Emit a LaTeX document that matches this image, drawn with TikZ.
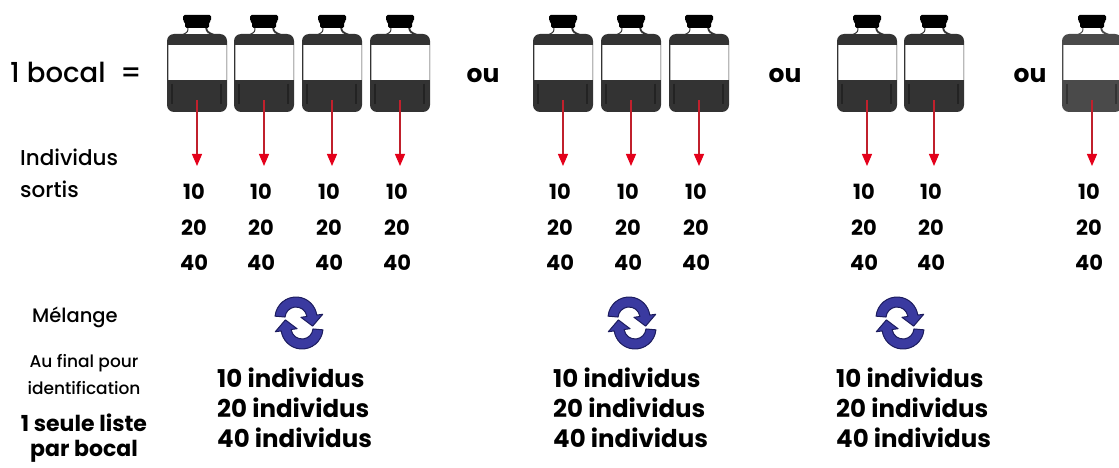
\documentclass[tikz,border=0pt]{standalone}
\usepackage{fontspec}
\setmainfont{Poppins}
\IfFontExistsTF{Poppins Medium}
  {\newfontfamily\mediumfont{Poppins Medium}}
  {\newfontfamily\mediumfont{Poppins}[FakeBold=2]}
\usetikzlibrary{arrows.meta}

\definecolor{bottledark}{HTML}{333333}
\definecolor{bottlegrey}{HTML}{4A4A4A}
\definecolor{arrowred}{HTML}{C0202C}
\definecolor{headred}{HTML}{E4001A}
\definecolor{iconblue}{HTML}{3A3AA0}
\definecolor{iconline}{HTML}{1C1C5E}

% one jar: name, centre x, body colour
\newcommand{\drawbocal}[3]{%
  \begin{scope}[shift={(#2,0)}]
    % body with shoulder band and bottom part
    \fill[#3, rounded corners=7pt] (-30,34) rectangle (30,112);
    % neck
    \fill[white] (-10,27) rectangle (10,34);
    \draw[#3, line width=1pt] (-9,27) .. controls (-9,32) .. (-15,35);
    \draw[#3, line width=1.8pt] (9,27) .. controls (10,32) .. (17,35);
    % stopper
    \fill[black, rounded corners=1.5pt] (-14,15) -- (14,15) -- (14,21) -- (12,22)
      -- (12,28) -- (-12,28) -- (-12,22) -- (-14,21) -- cycle;
    % label
    \fill[white] (-29,45) rectangle (29,80);
    \draw[gray!55, line width=0.6pt] (-29,45) -- (-29,80) (29,45) -- (29,80);
    % shading strips in the liquid
    \draw[black, opacity=0.3, line width=2pt] (-25,84) -- (-25,104) (24,84) -- (24,104);
  \end{scope}
  \coordinate (#1-out) at (#2,100);
  \coordinate (#1-tip) at (#2,166);
  \draw[pick] (#1-out) -- (#1-tip);
  \node[num] (#1-n10) at ({#2-3},199) {10};
  \node[num] (#1-n20) at ({#2-3},235) {20};
  \node[num] (#1-n40) at ({#2-3},270) {40};
}

% one half of the mixing symbol, drawn in upright coordinates
\newcommand{\halfarrow}{%
  \filldraw[fill=iconblue, draw=iconline, line width=1pt, line join=round]
    (175:21) arc[start angle=175, end angle=8, radius=21]
    -- (8:27) -- (-26:18.5) -- (8:5) -- (8:11)
    arc[start angle=8, end angle=175, radius=11] -- cycle;
}

% mixing symbol: name, centre x, centre y
\newcommand{\melange}[3]{%
  \coordinate (#1) at (#2,#3);
  \begin{scope}[shift={(#1)}, yscale=-1]
    \begin{scope}[shift={(-3,5)}]\halfarrow\end{scope}
    \begin{scope}[rotate=180]\begin{scope}[shift={(-3,5)}]\halfarrow\end{scope}\end{scope}
  \end{scope}
}

% final counts under one group: name, left x
\newcommand{\resultat}[2]{%
  \node[res] (#1-r10) at (#2,387) {10 individus};
  \node[res] (#1-r20) at (#2,417) {20 individus};
  \node[res] (#1-r40) at (#2,447) {40 individus};
}

\begin{document}
\begin{tikzpicture}[x=1pt, y=-1pt,
  num/.style={inner sep=0pt, anchor=base, font=\bfseries\fontsize{21}{24}\selectfont},
  res/.style={inner sep=0pt, anchor=base west, font=\bfseries\fontsize{24.5}{28}\selectfont},
  oustyle/.style={inner sep=0pt, anchor=base, font=\bfseries\fontsize{25}{28}\selectfont},
  side/.style={inner sep=0pt, anchor=base west, font=\mediumfont\fontsize{21.5}{24}\selectfont},
  note/.style={inner sep=0pt, anchor=base, font=\mediumfont\fontsize{17}{20}\selectfont},
  notebold/.style={inner sep=0pt, anchor=base, font=\bfseries\fontsize{22}{24}\selectfont},
  pick/.style={draw=arrowred, line width=1.2pt,
    -{Triangle[length=12pt, width=10pt, color=headred, fill=headred]}}
]
\useasboundingbox (0,0) rectangle (1119,468);
\clip (0,0) rectangle (1119,468);

% left-hand captions
\node[inner sep=0pt, anchor=base west, font=\mediumfont\fontsize{27.5}{30}\selectfont] (bocal) at (10,83) {1 bocal};
\node[inner sep=0pt, anchor=base, font=\mediumfont\fontsize{28}{30}\selectfont] (egal) at (131,83) {=};
\node[side] (indiv) at (20,165) {Individus};
\node[side] (sortis) at (20,197) {sortis};
\node[side, font=\mediumfont\fontsize{19.5}{22}\selectfont] (melangelbl) at (32,322) {Mélange};
\node[note] (aufinal) at (84,367) {Au final pour};
\node[note] (ident) at (84,394) {identification};
\node[notebold] (seule) at (84,431) {1 seule liste};
\node[notebold] (parbocal) at (84,456) {par bocal};

% four jars
\drawbocal{a1}{197}{bottledark}
\drawbocal{a2}{264}{bottledark}
\drawbocal{a3}{332}{bottledark}
\drawbocal{a4}{400}{bottledark}
\node[oustyle] (ou1) at (483,83) {ou};
% three jars
\drawbocal{b1}{563}{bottledark}
\drawbocal{b2}{631}{bottledark}
\drawbocal{b3}{699}{bottledark}
\node[oustyle] (ou2) at (785,83) {ou};
% two jars
\drawbocal{c1}{867}{bottledark}
\drawbocal{c2}{934}{bottledark}
\node[oustyle] (ou3) at (1030,83) {ou};
% one jar
\drawbocal{d1}{1092}{bottlegrey}

% mixing and final lists
\melange{mixa}{299}{323}
\melange{mixb}{632}{323}
\melange{mixc}{900}{323}
\resultat{ra}{217}
\resultat{rb}{553}
\resultat{rc}{836}
\end{tikzpicture}
\end{document}
